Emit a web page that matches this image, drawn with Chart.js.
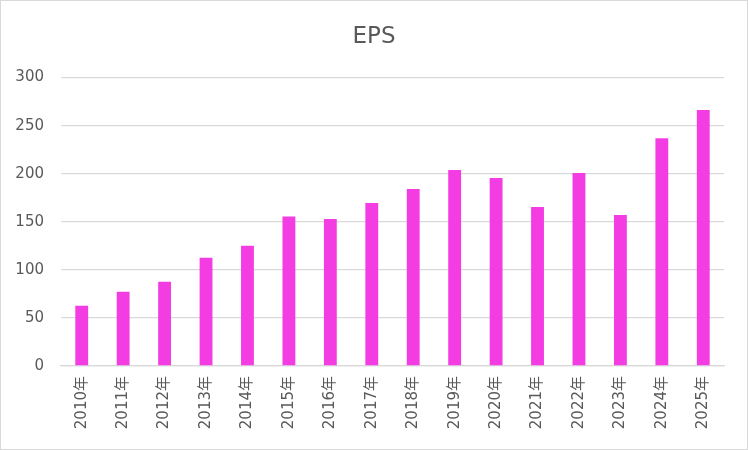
<!DOCTYPE html>
<html lang="ja">
<head>
  <meta charset="UTF-8">
  <title>EPS</title>
  <script src="https://cdn.jsdelivr.net/npm/chart.js"></script>
  <style>
    body { margin: 0; background: #fff; }
    #wrap { width: 748px; height: 450px; box-sizing: border-box; border: 1px solid #d9d9d9; }
    #wrap canvas { display: block; }
  </style>
</head>
<body>
  <div id="wrap"><canvas id="epsChart" width="746" height="448"></canvas></div>

  <script>
    // 年ごとのEPS
    const years = ["2010年","2011年","2012年","2013年","2014年","2015年","2016年","2017年",
                   "2018年","2019年","2020年","2021年","2022年","2023年","2024年","2025年"];
    const eps = [62.7, 77.3, 87.7, 112.7, 125.2, 155.4, 152.8, 169.5,
                 184, 203.9, 195.5, 165.3, 200.7, 157, 237, 266.4];
    const yTicks = [0, 50, 100, 150, 200, 250, 300];

    const font = "'DejaVu Sans', 'Noto Sans CJK JP', sans-serif";
    const gray = '#d9d9d9';

    new Chart(document.getElementById("epsChart"), {
      type: 'bar',
      data: {
        labels: years,
        datasets: [{
          label: 'EPS',
          data: eps,
          backgroundColor: '#F43CE3',
          categoryPercentage: 1,
          barPercentage: 0.31
        }]
      },
      options: {
        responsive: false,
        animation: false,
        plugins: {
          legend: { display: false },
          tooltip: { enabled: false },
          title: {
            display: true,
            text: 'EPS',
            color: '#595959',
            font: { family: font, size: 23, weight: 'normal' },
            padding: { top: 22, bottom: 27 }
          }
        },
        scales: {
          x: {
            grid: { display: false, drawTicks: false },
            border: { color: gray, width: 1.3 },
            ticks: {
              color: '#595959',
              font: { family: font, size: 15 },
              minRotation: 90,
              maxRotation: 90,
              autoSkip: false,
              padding: 10
            },
            afterFit: s => { s.height = 83; }
          },
          y: {
            min: 0,
            max: 300,
            afterBuildTicks: s => { s.ticks = yTicks.map(v => ({ value: v })); },
            grid: { color: gray, lineWidth: 1.3, drawTicks: false },
            border: { display: false },
            ticks: {
              color: '#595959',
              font: { family: font, size: 15 },
              padding: 17
            },
            afterFit: s => { s.width = 60; }
          },
          // 右側の余白用（何も描かない）
          yRight: {
            position: 'right',
            grid: { display: false, drawTicks: false },
            border: { display: false },
            ticks: { display: false },
            afterFit: s => { s.width = 23; }
          }
        }
      }
    });
  </script>
</body>
</html>
